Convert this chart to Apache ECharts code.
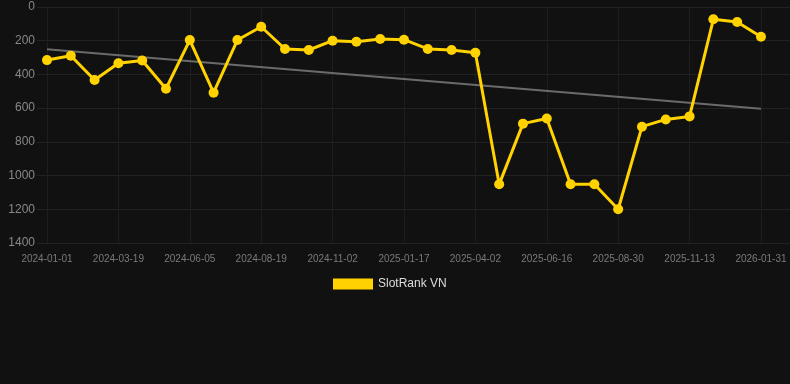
<!DOCTYPE html>
<html>
<head>
<meta charset="utf-8">
<script src="https://cdn.jsdelivr.net/npm/echarts@6/dist/echarts.min.js"></script>
<style>
  html, body { margin: 0; padding: 0; background: #111111; }
  #chart { width: 790px; height: 384px; }
</style>
</head>
<body>
<div id="chart"></div>
<script>
// dates of each ranking snapshot (labels shown every 3rd)
var dates = [
  '2024-01-01', '2024-01-27', '2024-02-22', '2024-03-19', '2024-04-14', '2024-05-10',
  '2024-06-05', '2024-06-30', '2024-07-25', '2024-08-19', '2024-09-13', '2024-10-08',
  '2024-11-02', '2024-11-27', '2024-12-23', '2025-01-17', '2025-02-11', '2025-03-08',
  '2025-04-02', '2025-04-27', '2025-05-22', '2025-06-16', '2025-07-11', '2025-08-05',
  '2025-08-30', '2025-09-24', '2025-10-19', '2025-11-13', '2025-12-09', '2026-01-05',
  '2026-01-31'
];
var ranks = [
  315, 289, 433, 334, 317, 485, 196, 508, 196, 117, 249,
  255, 200, 206, 190, 194, 249, 255, 271, 1052, 692,
  661, 1052, 1052, 1200, 710, 667, 649, 73, 89, 176
];
// trend line, start and end values
var trendIdx = [0, 30];
var trendVals = [251, 603];
var labelIdx = [0, 3, 6, 9, 12, 15, 18, 21, 24, 27, 30];

var font = 'Liberation Sans, Arial, sans-serif';

var rankData = [];
for (var i = 0; i < ranks.length; i++) rankData.push([i, ranks[i]]);
var trendData = [];
for (var j = 0; j < trendIdx.length; j++) trendData.push([trendIdx[j], trendVals[j]]);

var chart = echarts.init(document.getElementById('chart'));
chart.setOption({
  backgroundColor: '#111111',
  animation: false,
  textStyle: { fontFamily: font },
  grid: { left: 37, right: 0, top: 7, bottom: 141, containLabel: false },
  legend: {
    left: 333,
    top: 278,
    padding: 0,
    itemWidth: 40,
    itemHeight: 11,
    icon: 'rect',
    data: ['SlotRank VN'],
    textStyle: { color: '#dddddd', fontSize: 12, fontFamily: font }
  },
  xAxis: {
    type: 'value',
    min: -0.42,
    max: 31.22,
    axisLine: { show: false },
    axisTick: { show: false, customValues: labelIdx },
    axisLabel: {
      customValues: labelIdx,
      color: '#7a7a7a',
      fontSize: 10,
      margin: 11,
      fontFamily: font,
      formatter: function (v) { return dates[Math.round(v)]; }
    },
    splitLine: { show: true, lineStyle: { color: '#1e1e1e', width: 1 } }
  },
  yAxis: {
    type: 'value',
    inverse: true,
    min: 0,
    max: 1400,
    interval: 200,
    axisLine: { show: false },
    axisTick: { show: false },
    axisLabel: {
      color: '#888888',
      fontSize: 12,
      margin: 2,
      fontFamily: font,
      formatter: function (v) { return String(v); }
    },
    splitLine: { lineStyle: { color: '#222222', width: 1 } }
  },
  series: [
    {
      name: 'SlotRank VN',
      type: 'line',
      data: rankData,
      color: '#FFD200',
      symbol: 'circle',
      symbolSize: 10,
      lineStyle: { width: 3, color: '#FFD200' },
      itemStyle: { color: '#FFD200' },
      z: 3
    },
    {
      name: 'trend',
      type: 'line',
      data: trendData,
      symbol: 'none',
      lineStyle: { width: 2, color: '#6b6b6b' },
      z: 2
    }
  ]
});
</script>
</body>
</html>
